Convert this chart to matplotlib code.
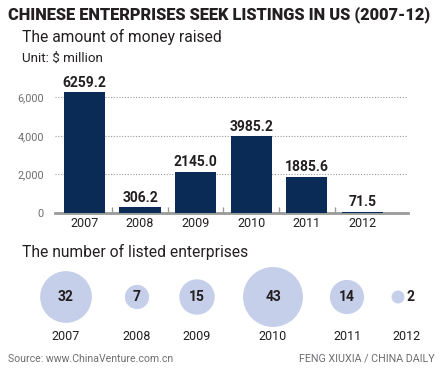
import matplotlib
matplotlib.use("Agg")
import matplotlib.pyplot as plt
from matplotlib.patches import Circle
import numpy as np

years = ["2007", "2008", "2009", "2010", "2011", "2012"]
money = [6259.2, 306.2, 2145.0, 3985.2, 1885.6, 71.5]
money_labels = ["6259.2", "306.2", "2145.0", "3985.2", "1885.6", "71.5"]
counts = [32, 7, 15, 43, 14, 2]
yticks = [0, 2000, 4000, 6000]
ytick_labels = ["0", "2,000", "4,000", "6,000"]

NARROW = ["Roboto", "DejaVu Sans"]
SANS = ["Roboto", "DejaVu Sans"]
BAR = "#0b2b57"
BUBBLE = "#c6cfea"
DARK = "#231f20"
GREY = "#6d6e71"
W, H = 444, 373

fig = plt.figure(figsize=(W / 100, H / 100), dpi=100)
fig.patch.set_facecolor("white")
renderer = fig.canvas.get_renderer()

def px(x, y):
    return x / W, 1 - y / H

def fit(t, width):
    bb = t.get_window_extent(renderer=renderer)
    t.set_fontsize(t.get_fontsize() * width / bb.width)
    return t

# Titles
fit(fig.text(*px(8, 15), "CHINESE ENTERPRISES SEEK LISTINGS IN US (2007-12)",
             family=NARROW, weight="heavy", fontsize=12, color=DARK,
             va="center", ha="left"), 424)
fit(fig.text(*px(22, 37), "The amount of money raised", family=SANS,
             fontsize=11, color=DARK, va="center", ha="left"), 198)
fit(fig.text(*px(22, 58), "Unit: $ million", family=SANS,
             fontsize=7.5, color=DARK, va="center", ha="left"), 81)

VAL_FS = 10
YEAR_FS = 9
TICK_FS = 7.8

# Bar chart
left, right, bottom, top = 55, 408, 213, 78
ax = fig.add_axes([left / W, 1 - bottom / H, (right - left) / W, (bottom - top) / H])
x = np.arange(len(years))
ax.bar(x, money, width=0.74, color=BAR, zorder=5)
ax.set_xlim(-0.53, 5.82)
ax.set_ylim(0, 7000)
for s in ["top", "right", "left"]:
    ax.spines[s].set_visible(False)
ax.spines["bottom"].set_color("#9a9a9a")
ax.spines["bottom"].set_linewidth(2)
ax.spines["bottom"].set_zorder(4)
ax.set_yticks(yticks)
ax.set_yticklabels(ytick_labels, family=NARROW, fontsize=TICK_FS, color=GREY)
ax.tick_params(axis="y", length=0, pad=8)
ax.set_xticks(x)
ax.set_xticklabels(years, family=NARROW, fontsize=YEAR_FS, color=DARK)
ax.tick_params(axis="x", length=0, pad=3)
ax.set_xticks(x[:-1] + 0.5, minor=True)
ax.tick_params(axis="x", which="minor", direction="in", length=4, width=1, color="#9a9a9a")
for yv in yticks[1:]:
    ax.axhline(yv, color="#9a9a9a", lw=0.8, ls=(0, (1, 1.5)), zorder=1)
for xi, v, lab in zip(x, money, money_labels):
    ax.text(xi, v + 120, lab, ha="center", va="bottom", family=NARROW,
            weight="bold", fontsize=VAL_FS, color=DARK)

# Bubbles section
fit(fig.text(*px(22, 252), "The number of listed enterprises", family=SANS,
             fontsize=11, color=DARK, va="center", ha="left"), 225)

bx = fig.add_axes([0, 0, 1, 1])
bx.set_xlim(0, W)
bx.set_ylim(H, 0)
bx.set_aspect("equal")
bx.axis("off")
bubble_x = [66, 137, 197, 273, 347, 398]
label_x = [66, 137, 197, 273, 347, 406]
cy = 297
k = 4.57
for bxp, lxp, n, yr in zip(bubble_x, label_x, counts, years):
    r = k * np.sqrt(n)
    bx.add_patch(Circle((bxp, cy), r, color=BUBBLE, lw=0))
    if n >= 5:
        bx.text(bxp, cy, str(n), ha="center", va="center", family=NARROW,
                weight="bold", fontsize=VAL_FS, color=DARK)
    else:
        bx.text(bxp + r + 2, cy, str(n), ha="left", va="center", family=NARROW,
                weight="bold", fontsize=VAL_FS, color=DARK)
    bx.text(lxp, 336, yr, ha="center", va="center", family=NARROW,
            fontsize=YEAR_FS, color=DARK)

fit(fig.text(*px(8, 359), "Source: www.ChinaVenture.com.cn", family=NARROW,
             fontsize=8, color=GREY, va="center", ha="left"), 166)
fit(fig.text(*px(435, 359), "FENG XIUXIA / CHINA DAILY", family=NARROW,
             fontsize=8, color=GREY, va="center", ha="right"), 136)

fig.savefig("out.png", dpi=100, facecolor="white")
